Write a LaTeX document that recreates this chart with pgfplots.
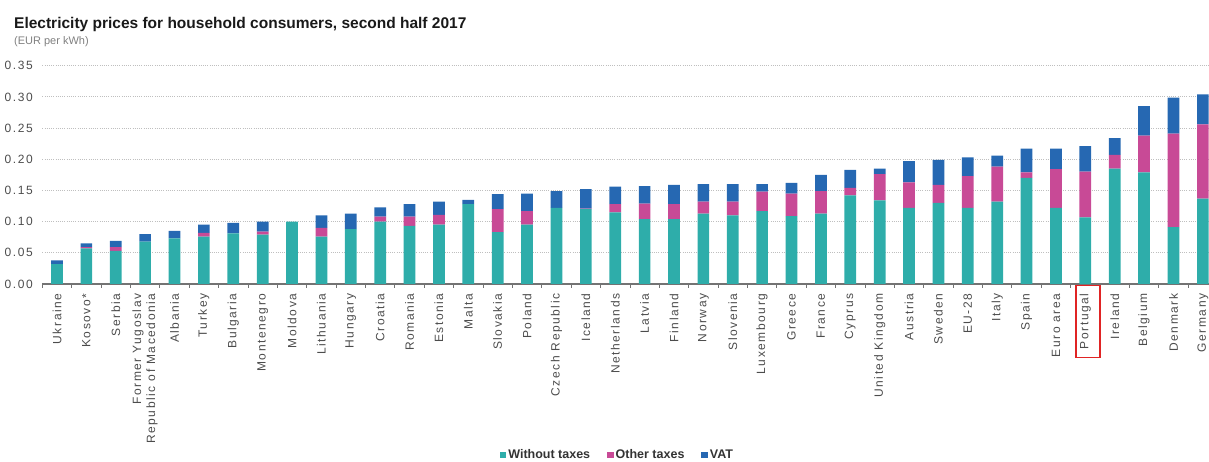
\documentclass[border=0pt]{standalone}
\usepackage{pgfplots}
\pgfplotsset{compat=1.18}
\usepackage{pgfplotstable}
\usepackage{fontspec}
\setmainfont{Liberation Sans}
\newfontfamily\spaced[LetterSpace=13]{Liberation Sans}
\definecolor{cteal}{HTML}{2EADAA}
\definecolor{cpink}{HTML}{C84A96}
\definecolor{cblue}{HTML}{2668B2}
\definecolor{cred}{HTML}{E02424}

\pgfplotstableread{
x wo ot vat
0 0.032 0.000 0.006
1 0.057 0.002 0.006
2 0.053 0.006 0.010
3 0.068 0.000 0.012
4 0.073 0.000 0.012
5 0.076 0.006 0.013
6 0.081 0.000 0.017
7 0.079 0.005 0.016
8 0.100 0.000 0.000
9 0.076 0.014 0.020
10 0.088 0.000 0.025
11 0.100 0.008 0.015
12 0.093 0.015 0.020
13 0.095 0.016 0.021
14 0.128 0.000 0.007
15 0.083 0.037 0.024
16 0.095 0.022 0.028
17 0.122 0.000 0.027
18 0.120 0.001 0.031
19 0.115 0.013 0.028
20 0.104 0.025 0.028
21 0.104 0.024 0.031
22 0.113 0.019 0.028
23 0.110 0.022 0.028
24 0.117 0.031 0.012
25 0.109 0.036 0.017
26 0.113 0.036 0.026
27 0.142 0.012 0.029
28 0.134 0.042 0.009
29 0.122 0.041 0.034
30 0.130 0.029 0.040
31 0.122 0.051 0.030
32 0.132 0.056 0.018
33 0.170 0.009 0.038
34 0.122 0.062 0.033
35 0.107 0.073 0.041
36 0.185 0.022 0.027
37 0.179 0.059 0.047
38 0.091 0.150 0.058
39 0.137 0.119 0.048
}\data

\begin{document}
\begin{tikzpicture}[x=1pt,y=1pt]
\useasboundingbox (0,0) rectangle (1209,462);
\node[anchor=base west, inner sep=0pt, font=\fontsize{15.5}{18}\selectfont\bfseries, text=black!90] at (14,433) {Electricity prices for household consumers, second half 2017};
\node[anchor=base west, inner sep=0pt, font=\fontsize{11}{13}\selectfont, text=black!50] at (14,417) {(EUR per kWh)};
\begin{axis}[
  at={(42.3pt,178pt)}, anchor=south west,
  width=1166.7pt, height=218.3pt, scale only axis,
  ybar stacked, bar width=11.7pt,
  xmin=-0.5, xmax=39.21, ymin=0, ymax=0.35,
  clip=false,
  xtick={0,...,39},
  xticklabels={Ukraine, Kosovo*, Serbia, {Former Yugoslav\\Republic of Macedonia}, Albania, Turkey, Bulgaria, Montenegro, Moldova, Lithuania, Hungary, Croatia, Romania, Estonia, Malta, Slovakia, Poland, Czech Republic, Iceland, Netherlands, Latvia, Finland, Norway, Slovenia, Luxembourg, Greece, France, Cyprus, United Kingdom, Austria, Sweden, EU-28, Italy, Spain, Euro area, Portugal, Ireland, Belgium, Denmark, Germany},
  minor xtick={-0.5,0.5,...,38.5},
  ytick={0,0.05,0.10,0.15,0.20,0.25,0.30,0.35},
  ymajorgrids, major grid style={dash pattern=on 1pt off 1.2pt, black!25, line width=0.8pt},
  axis x line*=bottom, axis y line*=left,
  y axis line style={draw=none},
  x axis line style={-, draw=black!55, line width=1.4pt},
  tick align=outside, major tick length=0pt, minor tick length=4pt,
  minor tick style={black!55, line width=0.8pt},
  ytick style={draw=none},
  /pgf/number format/assume math mode=true,
  yticklabel style={font=\spaced\fontsize{12}{14}\selectfont, text=black!70, xshift=-6pt, /pgf/number format/.cd, fixed, fixed zerofill, precision=2},
  xticklabel style={font=\spaced\fontsize{12}{14}\selectfont, text=black!70, yshift=-6pt, rotate=90, anchor=east, align=right},
  legend style={at={(0.493,-0.783)}, anchor=center, draw=none, fill=none, legend columns=3,
    font=\bfseries\fontsize{12.5}{14}\selectfont, text=black!80, inner sep=0pt,
    /tikz/every even column/.append style={column sep=15pt}},
  legend image code/.code={\fill[#1] (0pt,-3.2pt) rectangle (6.5pt,3.2pt);},
]
\addplot[fill=cteal, draw=none] table[x=x,y=wo]{\data};
\addplot[fill=cpink, draw=none] table[x=x,y=ot]{\data};
\addplot[fill=cblue, draw=none] table[x=x,y=vat]{\data};
\legend{Without taxes, Other taxes, VAT}
\draw[cred, line width=1.3pt] (axis cs:34.68,-0.002) rectangle (axis cs:35.5,-0.118);
\end{axis}
\end{tikzpicture}
\end{document}
